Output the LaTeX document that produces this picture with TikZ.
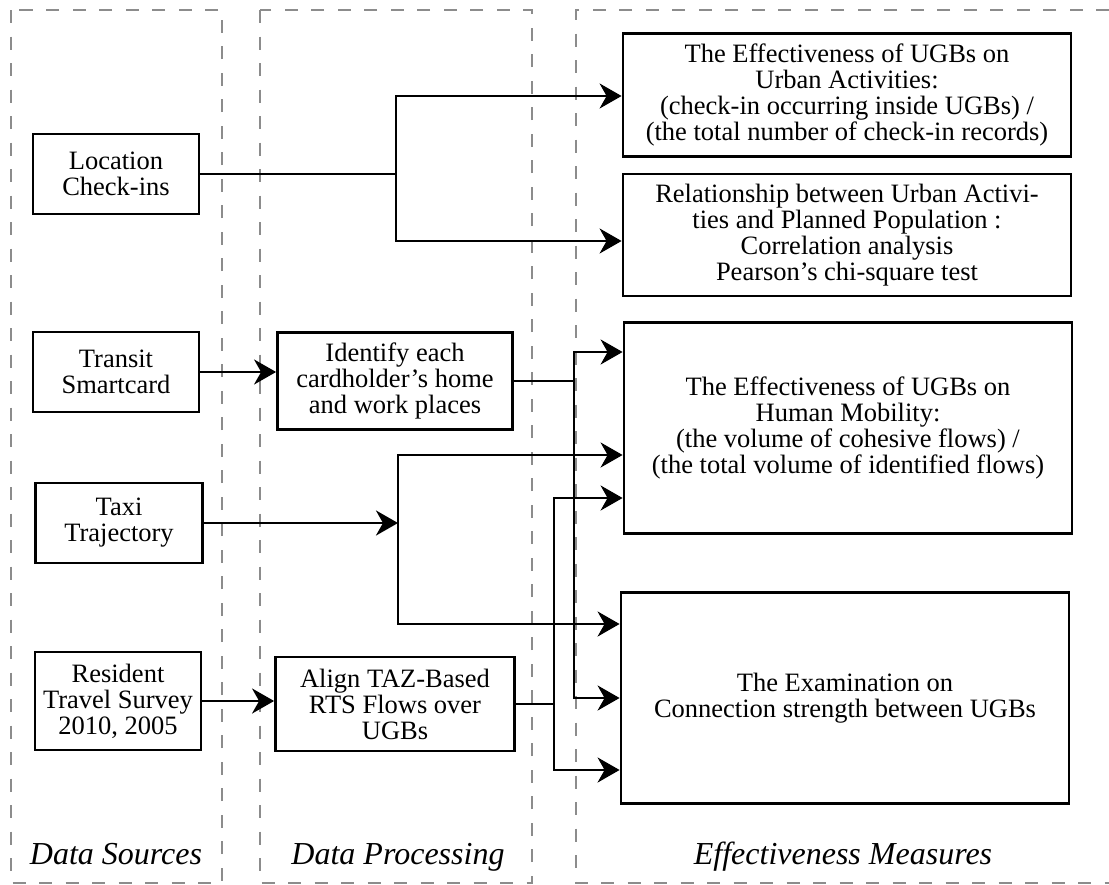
\documentclass[tikz,border=0pt]{standalone}
\usepackage{fontspec}
\setmainfont{Liberation Serif}
\usetikzlibrary{arrows.meta}
\definecolor{panelgray}{RGB}{140, 140, 140}

\begin{document}
\begin{tikzpicture}[x=1pt, y=-1pt,
    box/.style={draw=black, line width=2.8pt, fill=white, align=center, inner sep=0pt,
        font=\fontsize{26.5}{26}\selectfont},
    panel/.style={draw=panelgray, line width=2.6pt, dash pattern=on 13pt off 13.5pt},
    link/.style={line width=2.8pt},
    flow/.style={link, -{Stealth[length=22pt, width=25pt, inset=7pt]}},
    twoway/.style={link, {Stealth[length=22pt, width=25pt, inset=7pt]}-{Stealth[length=22pt, width=25pt, inset=7pt]}},
    caption/.style={font=\fontsize{32}{36}\selectfont\itshape, anchor=base}]
    \useasboundingbox (0,0) rectangle (1109,884);

    \draw[panel] (11,10) rectangle (222,883);
    \draw[panel] (260,10) rectangle (532,883);
    \draw[panel] (1109,10) -- (576,10) -- (576,883) -- (1109,883);

    \node[caption] (srclabel) at (116,864) {Data Sources};
    \node[caption] (proclabel) at (398,864) {Data Processing};
    \node[caption] (measlabel) at (843,864) {Effectiveness Measures};

    \node[box, minimum width=166pt, minimum height=80pt] (checkin) at (116,174) {Location\\Check-ins};
    \node[box, minimum width=166pt, minimum height=80pt] (smartcard) at (116,372) {Transit\\Smartcard};
    \node[box, minimum width=167pt, minimum height=80pt] (taxi) at (119,523) {Taxi\\Trajectory};
    \node[box, minimum width=166pt, minimum height=98pt] (survey) at (118,701) {Resident\\Travel Survey\\2010, 2005};

    \node[box, minimum width=235pt, minimum height=97pt] (homework) at (395,381) {Identify each\\cardholder’s home\\and work places};
    \node[box, minimum width=239pt, minimum height=94pt] (rtsflows) at (395,704) {Align TAZ-Based\\RTS Flows over\\UGBs};

    \node[box, minimum width=448pt, minimum height=123pt] (activities) at (847,95) {The Effectiveness of UGBs on\\Urban Activities:\\(check-in occurring inside UGBs) /\\(the total number of check-in records)};
    \node[box, minimum width=448pt, minimum height=122pt] (population) at (847,235) {Relationship between Urban Activi-\\ties and Planned Population :\\Correlation analysis\\Pearson’s chi-square test};
    \node[box, minimum width=448pt, minimum height=211pt] (mobility) at (848,428) {The Effectiveness of UGBs on\\Human Mobility:\\(the volume of cohesive flows) /\\(the total volume of identified flows)};
    \node[box, minimum width=448pt, minimum height=211pt] (strength) at (845,698) {The Examination on\\Connection strength between UGBs};

    \coordinate (cktop) at (396,96);
    \coordinate (ckbot) at (396,241);
    \draw[link] (checkin.east) -- (checkin.east -| cktop);
    \draw[twoway] (cktop -| activities.west) -- (cktop) -- (ckbot) -- (ckbot -| population.west);

    \draw[flow] (smartcard.east) -- (smartcard.east -| homework.west);
    \coordinate (hwtop) at (574,352);
    \coordinate (hwbot) at (574,698);
    \draw[link] (homework.east) -- (homework.east -| hwtop);
    \draw[twoway] (hwtop -| mobility.west) -- (hwtop) -- (hwbot) -- (hwbot -| strength.west);

    \coordinate (txtop) at (398,455);
    \coordinate (txbot) at (398,624);
    \draw[flow] (taxi.east) -- (taxi.east -| txtop);
    \draw[twoway] (txtop -| mobility.west) -- (txtop) -- (txbot) -- (txbot -| strength.west);

    \draw[flow] (survey.east) -- (survey.east -| rtsflows.west);
    \coordinate (rttop) at (554,498);
    \coordinate (rtbot) at (554,770);
    \draw[link] (rtsflows.east) -- (rtsflows.east -| rttop);
    \draw[twoway] (rttop -| mobility.west) -- (rttop) -- (rtbot) -- (rtbot -| strength.west);
\end{tikzpicture}
\end{document}
